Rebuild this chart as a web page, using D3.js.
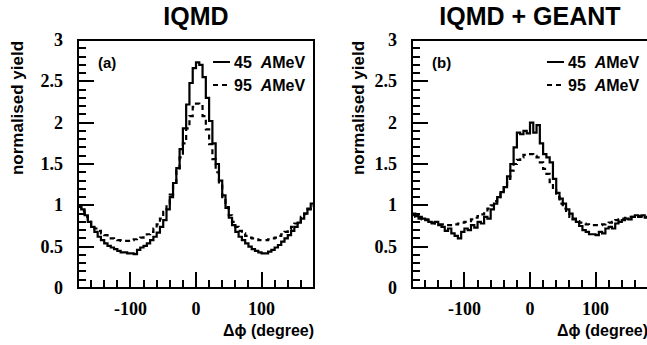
<!DOCTYPE html>
<html>
<head>
<meta charset="utf-8">
<script src="https://cdn.jsdelivr.net/npm/d3@7"></script>
<style>
  body { margin: 0; background: #fff; }
  svg { display: block; }
</style>
</head>
<body>
<svg id="svg" width="647" height="345"></svg>
<script>
'use strict';

// Histogram bins: 5 degree wide, lower edges -180 ... 175
const binEdges = d3.range(-180, 180, 5);

const iqmd45 = [
  1.00, 0.95, 0.88, 0.80, 0.74, 0.68, 0.62, 0.58, 0.54, 0.51, 0.49, 0.47,
  0.45, 0.43, 0.43, 0.42, 0.42, 0.41, 0.46, 0.49, 0.51, 0.54, 0.58, 0.62,
  0.67, 0.74, 0.82, 0.95, 1.10, 1.27, 1.45, 1.68, 1.93, 2.22, 2.48, 2.66,
  2.73, 2.70, 2.55, 2.30, 2.02, 1.75, 1.50, 1.30, 1.12, 0.97, 0.85, 0.76,
  0.68, 0.62, 0.58, 0.54, 0.50, 0.47, 0.45, 0.43, 0.42, 0.42, 0.44, 0.46,
  0.49, 0.52, 0.56, 0.60, 0.64, 0.69, 0.74, 0.79, 0.84, 0.90, 0.96, 1.02
];
const iqmd95 = [
  0.98, 0.93, 0.86, 0.80, 0.76, 0.72, 0.69, 0.66, 0.64, 0.62, 0.60, 0.59,
  0.58, 0.57, 0.57, 0.57, 0.58, 0.59, 0.60, 0.61, 0.63, 0.65, 0.68, 0.72,
  0.77, 0.84, 0.92, 1.02, 1.13, 1.27, 1.42, 1.58, 1.75, 1.93, 2.08, 2.19,
  2.23, 2.20, 2.08, 1.92, 1.74, 1.56, 1.40, 1.24, 1.10, 0.98, 0.88, 0.80,
  0.74, 0.69, 0.66, 0.63, 0.61, 0.60, 0.59, 0.58, 0.58, 0.58, 0.59, 0.60,
  0.61, 0.63, 0.65, 0.68, 0.71, 0.74, 0.78, 0.82, 0.86, 0.90, 0.95, 0.99
];
const geant45 = [
  0.90, 0.87, 0.86, 0.84, 0.83, 0.80, 0.78, 0.80, 0.76, 0.74, 0.69, 0.72,
  0.66, 0.63, 0.60, 0.68, 0.72, 0.70, 0.76, 0.73, 0.80, 0.78, 0.86, 0.84,
  0.95, 1.02, 1.10, 1.16, 1.22, 1.35, 1.50, 1.70, 1.88, 1.86, 1.90, 1.87,
  2.00, 1.88, 1.97, 1.75, 1.62, 1.58, 1.52, 1.32, 1.15, 1.08, 1.02, 0.95,
  0.90, 0.84, 0.80, 0.75, 0.70, 0.68, 0.65, 0.65, 0.64, 0.68, 0.66, 0.72,
  0.74, 0.72, 0.78, 0.80, 0.82, 0.84, 0.83, 0.86, 0.88, 0.86, 0.88, 0.85
];
const geant95 = [
  0.88, 0.86, 0.84, 0.83, 0.82, 0.80, 0.79, 0.78, 0.77, 0.77, 0.76, 0.76,
  0.76, 0.77, 0.78, 0.79, 0.80, 0.81, 0.83, 0.85, 0.87, 0.89, 0.92, 0.96,
  1.00, 1.05, 1.10, 1.16, 1.22, 1.32, 1.42, 1.50, 1.55, 1.58, 1.61, 1.62,
  1.62, 1.60, 1.58, 1.52, 1.44, 1.38, 1.28, 1.18, 1.10, 1.02, 0.96, 0.90,
  0.86, 0.83, 0.81, 0.79, 0.78, 0.77, 0.76, 0.76, 0.76, 0.76, 0.77, 0.78,
  0.79, 0.80, 0.82, 0.83, 0.84, 0.85, 0.86, 0.86, 0.87, 0.87, 0.87, 0.86
];

const xTicks = [-100, 0, 100];
const xMinor = d3.range(-160, 180, 20);
const yTicks = [0, 0.5, 1, 1.5, 2, 2.5, 3];
const yTickLabels = ['0', '0.5', '1', '1.5', '2', '2.5', '3'];
const yMinor = d3.range(1, 30);
const legendLabels = ['45', '95'];

const panels = [
  { left: 78, ylab: 23, title: 'IQMD', tag: '(a)', s45: iqmd45, s95: iqmd95 },
  { left: 412, ylab: 364, title: 'IQMD + GEANT', tag: '(b)', s45: geant45, s95: geant95 }
];

const plotTop = 40;
const plotBottom = 288;
const plotW = 236;
const svg = d3.select('#svg');
const SANS = 'Liberation Sans, Arial, sans-serif';
const SERIF = 'Liberation Serif, Times New Roman, serif';

panels.forEach(p => {
  const x = d3.scaleLinear().domain([-180, 180]).range([p.left, p.left + plotW]);
  const y = d3.scaleLinear().domain([0, 3]).range([plotBottom, plotTop]);
  const g = svg.append('g');

  // frame and inward ticks in one stroked path
  let d = `M${p.left},${plotTop}H${p.left + plotW}V${plotBottom}H${p.left}Z`;
  xMinor.forEach(v => {
    const len = v % 100 === 0 ? 16 : 8;
    d += `M${Math.round(x(v))},${plotBottom}V${plotBottom - len}`;
  });
  yMinor.forEach(i => {
    const len = i % 5 === 0 ? 16 : 8;
    d += `M${p.left},${Math.round(y(i / 10))}H${p.left + len}`;
  });
  g.append('path')
    .attr('d', d)
    .attr('fill', 'none').attr('stroke', '#000').attr('stroke-width', 2);

  // tick labels
  g.selectAll('text.xl').data(xTicks).join('text')
    .attr('class', 'xl')
    .attr('x', v => x(v)).attr('y', 315)
    .attr('text-anchor', 'middle')
    .attr('font-family', SERIF).attr('font-weight', 'bold').attr('font-size', 18)
    .text(v => v);
  g.selectAll('text.yl').data(yTicks).join('text')
    .attr('class', 'yl')
    .attr('x', p.left - 15).attr('y', v => y(v) + 6)
    .attr('text-anchor', 'end')
    .attr('font-family', SERIF).attr('font-weight', 'bold').attr('font-size', 18)
    .text((v, i) => yTickLabels[i]);

  // axis titles
  g.append('text')
    .attr('x', p.left + plotW).attr('y', 336)
    .attr('text-anchor', 'end')
    .attr('font-family', SANS).attr('font-weight', 'bold').attr('font-size', 16)
    .text('\u0394\u03d5 (degree)');
  g.append('text')
    .attr('transform', `translate(${p.ylab},108) rotate(-90)`)
    .attr('text-anchor', 'middle')
    .attr('font-family', SANS).attr('font-weight', 'bold').attr('font-size', 17)
    .text('normalised yield');

  // panel title
  g.append('text')
    .attr('x', x(0)).attr('y', 25)
    .attr('text-anchor', 'middle')
    .attr('font-family', SANS).attr('font-weight', 'bold').attr('font-size', 25)
    .text(p.title);

  // tag
  g.append('text')
    .attr('x', p.left + 20).attr('y', 68)
    .attr('font-family', SANS).attr('font-weight', 'bold').attr('font-size', 15)
    .text(p.tag);

  // histograms as steps
  const step = d3.line()
    .x(q => x(q[0])).y(q => y(q[1]))
    .curve(d3.curveStepAfter);
  const pts = vals => {
    const a = binEdges.map((e, i) => [e, vals[i]]);
    a.push([180, vals[vals.length - 1]]);
    return a;
  };
  g.append('path')
    .attr('d', step(pts(p.s95)))
    .attr('fill', 'none').attr('stroke', '#000').attr('stroke-width', 2.2)
    .attr('stroke-dasharray', '5,4');
  g.append('path')
    .attr('d', step(pts(p.s45)))
    .attr('fill', 'none').attr('stroke', '#000').attr('stroke-width', 2.2);

  // legend
  const lx = p.left + 135;
  legendLabels.forEach((lab, i) => {
    const ly = 62 + i * 23;
    g.append('line')
      .attr('x1', lx).attr('x2', lx + 17)
      .attr('y1', ly).attr('y2', ly)
      .attr('stroke', '#000').attr('stroke-width', 2)
      .attr('stroke-dasharray', i === 0 ? null : '5,4');
    const t = g.append('text')
      .attr('x', lx + 21).attr('y', ly + 6)
      .attr('font-family', SANS).attr('font-weight', 'bold').attr('font-size', 16);
    t.append('tspan').text(lab + '\u00a0\u00a0');
    t.append('tspan').attr('font-style', 'italic').text('A');
    t.append('tspan').text('MeV');
  });
});
</script>
</body>
</html>
